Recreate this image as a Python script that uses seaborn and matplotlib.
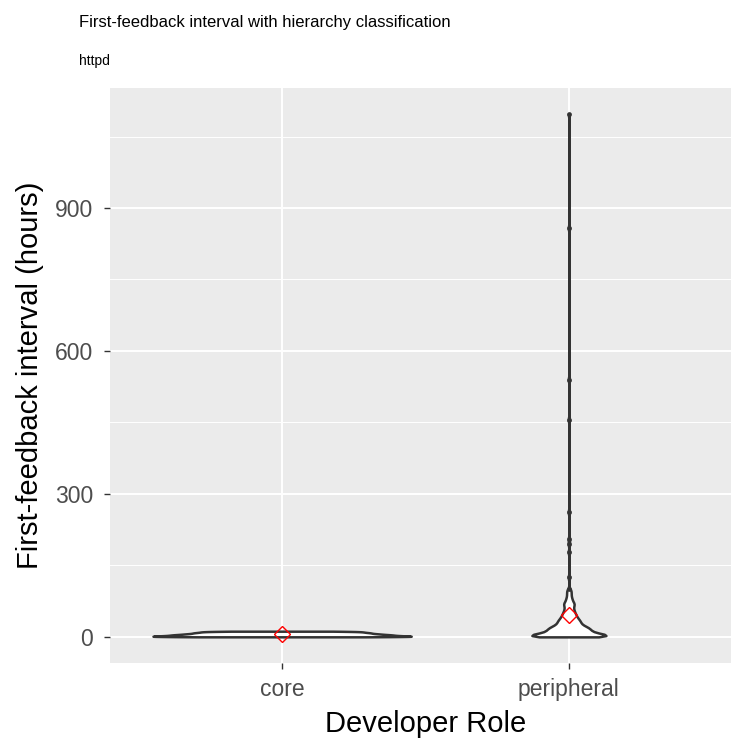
import numpy as np
import pandas as pd
import matplotlib
matplotlib.use("Agg")
import matplotlib.pyplot as plt
from matplotlib.ticker import MultipleLocator
import seaborn as sns

# ---- data (hours) ----
roles = ["core", "peripheral"]

core_hours = [0.2, 0.5, 0.8, 1.1, 1.45, 1.8, 2.15, 2.5, 2.9, 3.3, 3.7, 4.1,
              4.5, 4.9, 5.35, 5.8, 6.25, 6.7, 7.2, 7.7, 8.2, 8.7, 9.2, 9.75,
              10.3, 10.85, 11.4, 12.0]

peripheral_hours = [
    0.1, 0.1, 0.15, 0.2, 0.25, 0.3, 0.4, 0.45, 0.5, 0.6, 0.7, 0.8, 0.85, 0.9,
    1.0, 1.1, 1.2, 1.3, 1.4, 1.5, 1.6, 1.7, 1.8, 1.9, 2.0, 2.1, 2.3, 2.4, 2.5,
    2.6, 2.7, 2.8, 2.9, 3.1, 3.2, 3.3, 3.5, 3.6, 3.7, 3.9, 4.1, 4.3, 4.5, 4.7,
    4.9, 5.1, 5.3, 5.5, 5.7, 6.0, 6.2, 6.4, 6.7, 6.9, 7.1, 7.4, 7.6, 7.9, 8.1,
    8.4, 8.6, 8.9, 9.2, 9.5, 9.8,
    10.2, 10.5, 10.8, 11.1, 11.4, 11.7, 12.0, 12.3, 12.6, 12.9, 13.2, 13.5,
    13.8, 14.1, 14.4, 14.7, 15.0, 15.3, 15.6, 16.0, 16.3, 16.6, 17.0, 17.3,
    17.6, 18.0, 18.3, 18.6, 19.0, 19.3, 19.6, 19.9, 20.2, 20.5, 20.7, 20.9,
    21.3, 21.8, 22.3, 22.8, 23.3, 23.8, 24.3, 24.8, 25.3, 25.8, 26.3, 26.8,
    27.3, 27.9, 28.5, 29.1, 29.7, 30.3, 30.9, 31.5, 32.1, 32.7, 33.3, 33.9,
    34.5, 35.0, 35.5, 35.9,
    36.8, 37.6, 38.4, 39.2, 40.0, 40.8, 41.6, 42.4, 43.2, 44.0, 45.0, 46.0,
    47.0, 48.0, 49.0, 50.0, 51.2, 52.4, 53.6, 54.8, 56.0, 57.5, 59.0, 60.5,
    62.0, 63.5, 65.0, 66.5, 68.0, 69.0, 70.0, 70.8,
    72, 74, 76, 78, 80, 82, 85, 88, 91, 94, 97, 100,
    125, 178, 195, 205, 262, 456, 540, 858, 1097]

y_ticks = [0, 300, 600, 900]

df = pd.DataFrame({
    "role": ["core"] * len(core_hours) + ["peripheral"] * len(peripheral_hours),
    "hours": core_hours + peripheral_hours,
})


def nrd0(kde):
    x = np.asarray(kde.dataset).ravel()
    sd = x.std(ddof=1)
    q75, q25 = np.percentile(x, [75, 25])
    lo = min(sd, (q75 - q25) / 1.34)
    bw = 0.9 * lo * len(x) ** -0.2
    return bw / sd


# boxplot-style outliers
def outliers(g):
    q1, q3 = g.quantile(0.25), g.quantile(0.75)
    iqr = q3 - q1
    return g[(g < q1 - 1.5 * iqr) | (g > q3 + 1.5 * iqr)]

out_df = df.groupby("role")["hours"].apply(outliers).reset_index(level=0)

W, H = 731, 738
fig = plt.figure(figsize=(W / 100, H / 100), dpi=100)
ax = fig.add_axes([110 / W, (H - 663) / H, (741 - 110) / W, (663 - 88) / H])
ax.set_facecolor("#EBEBEB")

sns.violinplot(data=df, x="role", y="hours", order=roles, inner=None, cut=0,
               density_norm="area", width=0.9, bw_method=nrd0, bw_adjust=0.45,
               gridsize=400, color="white", linecolor="#333333", linewidth=1.8,
               saturation=1, ax=ax, zorder=3)
sns.stripplot(data=out_df, x="role", y="hours", order=roles, jitter=False,
              size=3.4, color="#333333", linewidth=0, ax=ax, zorder=4)
sns.pointplot(data=df, x="role", y="hours", order=roles, estimator="mean",
              errorbar=None, linestyle="none", marker="D", markersize=8,
              markerfacecolor="none", markeredgecolor="red",
              markeredgewidth=1.0, color="red", ax=ax, zorder=5)

ymin, ymax = df["hours"].min(), df["hours"].max()
pad = (ymax - ymin) * 0.05
ax.set_ylim(ymin - pad, ymax + pad)
ax.set_xlim(-0.6, 1.6)
ax.set_yticks(y_ticks)
ax.yaxis.set_minor_locator(MultipleLocator(150))

ax.grid(True, which="major", color="white", linewidth=1.4, zorder=0)
ax.grid(True, which="minor", axis="y", color="white", linewidth=0.7, zorder=0)
ax.set_axisbelow(True)
for s in ax.spines.values():
    s.set_visible(False)

ax.tick_params(axis="both", which="major", length=4, width=1.0,
               color="#333333", labelcolor="#4D4D4D", labelsize=16.5)
ax.tick_params(axis="x", which="major", pad=7)
ax.tick_params(axis="y", which="major", pad=8)
ax.tick_params(axis="y", which="minor", length=0)

fam = ["Liberation Sans", "DejaVu Sans"]
for lbl in ax.get_xticklabels() + ax.get_yticklabels():
    lbl.set_family(fam)

ax.set_xlabel("Developer Role", fontsize=21, family=fam, color="black", labelpad=6)
ax.set_ylabel("First-feedback interval (hours)", fontsize=21, family=fam,
              color="black", labelpad=8)

fig.text(79 / W, 1 - 22 / H, "First-feedback interval with hierarchy classification",
         fontsize=12, family=fam, ha="left", va="center", color="black")
fig.text(79 / W, 1 - 61 / H, "httpd", fontsize=10, family=fam,
         ha="left", va="center", color="black")

fig.savefig("out.png", dpi=100)
